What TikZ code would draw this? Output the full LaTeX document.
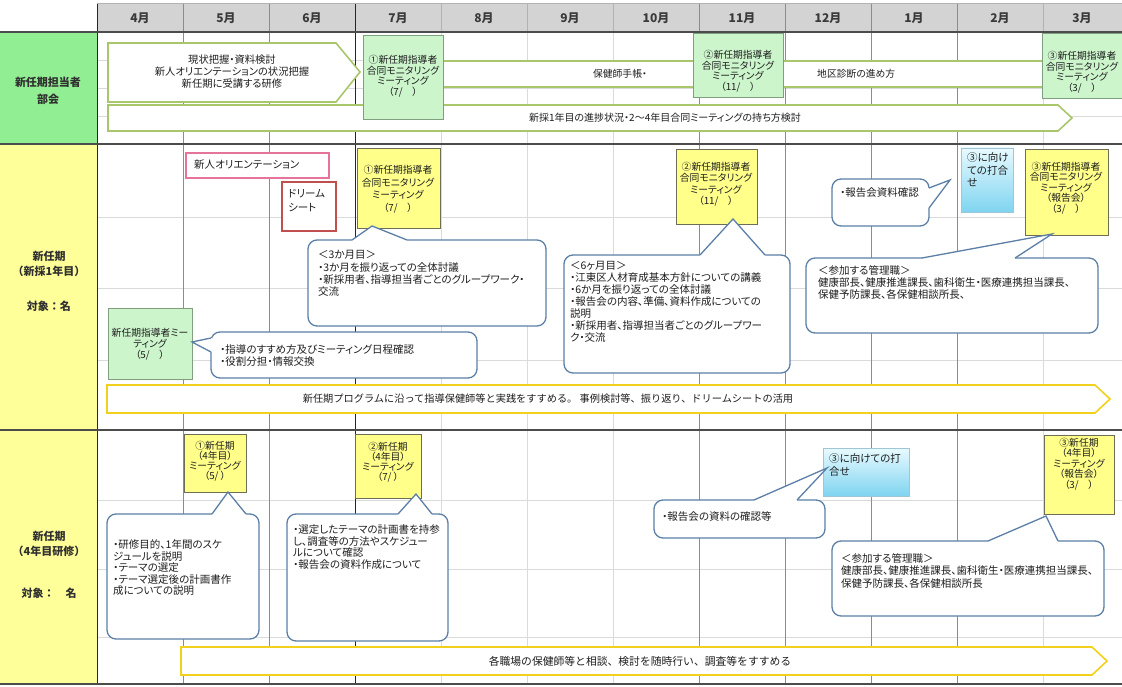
\documentclass[tikz,border=0pt]{standalone}
\usepackage{fontspec}
\newfontfamily\jp{Noto Sans CJK JP}[RawFeature=+palt]
\newfontfamily\jpf{Noto Sans CJK JP}
\usetikzlibrary{calc}
\definecolor{hdr}{HTML}{D3D3D3}
\definecolor{lblgreen}{HTML}{92EE92}
\definecolor{lblyellow}{HTML}{FFFF99}
\definecolor{glight}{HTML}{DADADA}
\definecolor{gmid}{HTML}{8C8C8C}
\definecolor{pengreen}{HTML}{A9C66C}
\definecolor{gboxf}{HTML}{CCF5CC}
\definecolor{gboxb}{HTML}{7F9F7F}
\definecolor{yboxf}{HTML}{FFFF8A}
\definecolor{yboxb}{HTML}{6E6E55}
\definecolor{calb}{HTML}{5B7FA6}
\definecolor{pinkb}{HTML}{E5739A}
\definecolor{redb}{HTML}{C0504D}
\definecolor{bany}{HTML}{F2D11C}
\definecolor{bluetop}{HTML}{E8FAFF}
\definecolor{bluebot}{HTML}{7FD4F0}
\definecolor{blueb}{HTML}{9FC6D6}
\definecolor{txtc}{HTML}{1E1E1E}
\definecolor{lblc}{HTML}{303030}
\definecolor{monc}{HTML}{3A3A3A}
\newcommand\calltop[8]{%
  \draw[callout] (#1,#2) rectangle (#3,#4);
  \fill[white] (#5,#2+1.2) -- (#5,#2) -- (#7,#8) -- (#6,#2) -- (#6,#2+1.2) -- cycle;
  \draw[calloutln] (#5,#2) -- (#7,#8) -- (#6,#2);}
\newcommand\callleft[8]{%
  \draw[callout] (#1,#2) rectangle (#3,#4);
  \fill[white] (#1+1.2,#5) -- (#1,#5) -- (#7,#8) -- (#1,#6) -- (#1+1.2,#6) -- cycle;
  \draw[calloutln] (#1,#5) -- (#7,#8) -- (#1,#6);}
\newcommand\callright[8]{%
  \draw[callout] (#1,#2) rectangle (#3,#4);
  \fill[white] (#3-1.2,#5) -- (#3,#5) -- (#7,#8) -- (#3,#6) -- (#3-1.2,#6) -- cycle;
  \draw[calloutln] (#3,#5) -- (#7,#8) -- (#3,#6);}
\tikzset{
  gridlight/.style={draw=glight, line width=0.6pt},
  gridmid/.style={draw=gmid, line width=0.7pt},
  griddark/.style={draw=black!85, line width=1pt},
  hline/.style={draw=black!70, line width=1.1pt},
  penbox/.style={draw=pengreen, line width=1.6pt, fill=white},
  gbox/.style={draw=gboxb, fill=gboxf, line width=0.8pt},
  ybox/.style={draw=yboxb, fill=yboxf, line width=0.8pt},
  callout/.style={draw=calb, line width=1.3pt, fill=white, rounded corners=9pt},
  calloutln/.style={draw=calb, line width=1.3pt},
  banner/.style={draw=bany, line width=1.6pt, fill=white},
  ct/.style={font=\jp\fontsize{10.5}{#1}\selectfont, align=left, anchor=west, text=txtc, inner sep=0pt},
  ct/.default=12,
  bt/.style={font=\jp\fontsize{9.8}{#1}\selectfont, align=center, text=txtc, inner sep=0pt},
  bt/.default=11,
  bant/.style={font=\jpf\fontsize{#1}{12}\selectfont, text=txtc, inner sep=0pt},
  lbl/.style={font=\jpf\bfseries\fontsize{11}{13}\selectfont, text=lblc, inner sep=0pt},
  mon/.style={font=\jp\bfseries\fontsize{12}{14}\selectfont, text=monc, inner sep=0pt},
}
\begin{document}
\begin{tikzpicture}[x=1pt,y=-1pt]
\useasboundingbox (0,0) rectangle (1122,687);
\fill[white] (0,0) rectangle (1122,687);
% cells
\fill[lblgreen] (0,32) rectangle (97,144);
\fill[lblyellow] (0,144) rectangle (97,430);
\fill[lblyellow] (0,430) rectangle (97,684);
\fill[hdr] (97,3) rectangle (1122,32);
% grid
\foreach \y in {60,88,116,217,288,360,500,569,637} \draw[gridlight] (97,\y) -- (1122,\y);
\foreach \x in {441,527,613,1043} {\draw[gridlight] (\x,32) -- (\x,684); \draw[draw=gray!60, line width=0.6pt] (\x,3) -- (\x,32);}
\foreach \x in {183,269,699,785,871,957} \draw[gridmid] (\x,3) -- (\x,684);
\draw[griddark] (355,3) -- (355,684);
\draw[griddark] (97,3) -- (97,684);
\draw[draw=gray!60, line width=0.6pt] (97,3) -- (1122,3);
\draw[hline] (0,32) -- (1122,32);
\draw[hline] (0,144) -- (1122,144);
\draw[hline] (0,430) -- (1122,430);
\draw[hline] (0,684) -- (1122,684);
% months
\node[mon] (m4) at (140,18) {4月};
\node[mon] (m5) at (226,18) {5月};
\node[mon] (m6) at (312,18) {6月};
\node[mon] (m7) at (398,18) {7月};
\node[mon] (m8) at (484,18) {8月};
\node[mon] (m9) at (570,18) {9月};
\node[mon] (m10) at (656,18) {10月};
\node[mon] (m11) at (742,18) {11月};
\node[mon] (m12) at (828,18) {12月};
\node[mon] (m1) at (914,18) {1月};
\node[mon] (m2) at (1000,18) {2月};
\node[mon] (m3) at (1082,18) {3月};
% labels
\node[lbl] (lt1) at (48,82) {新任期担当者};
\node[lbl] (lt2) at (48,99) {部会};
\node[lbl] (lm1) at (49,256) {新任期};
\node[lbl] (lm2) at (49,271) {（新採1年目）};
\node[lbl] (lm3) at (49,306) {対象：名};
\node[lbl] (lb1) at (49,536) {新任期};
\node[lbl] (lb2) at (49,551) {（4年目研修）};
\node[lbl] (lb3) at (49,593) {対象：　名};
% ---------- top section ----------
\draw[penbox] (108,105) -- (1058,105) -- (1072,118) -- (1058,131) -- (108,131) -- cycle;
\node[font=\jp\fontsize{10}{12}\selectfont, text=txtc, inner sep=0pt] (tB) at (665,118) {新採1年目の進捗状況・2～4年目合同ミーティングの持ち方検討};
\draw[penbox] (440,61) rectangle (1046,87);
\node[bt] (tband1) at (620,74) {保健師手帳・};
\node[bt, anchor=west] (tband2) at (817,74) {地区診断の進め方};
\draw[penbox] (108,43) -- (336,43) -- (360,72) -- (336,102) -- (108,102) -- cycle;
\node[font=\jp\fontsize{10.3}{12}\selectfont, align=center, text=txtc, inner sep=0pt] (tA) at (232,72) {現状把握・資料検討\\新人オリエンテーションの状況把握\\新任期に受講する研修};
\draw[gbox] (363,35) rectangle (443,119);
\node[bt=10.5] (tg1) at (403,76) {①新任期指導者\\合同モニタリング\\ミーティング\\（7/　）};
\draw[gbox] (693,33) rectangle (783,97);
\node[bt=10.5] (tg2) at (738,71) {②新任期指導者\\合同モニタリング\\ミーティング\\（11/　）};
\draw[gbox] (1042,33) rectangle (1126,98);
\node[bt=10.5] (tg3) at (1082,72) {③新任期指導者\\合同モニタリング\\ミーティング\\（3/　）};
% ---------- middle section ----------
\draw[draw=pinkb, line width=1.5pt, fill=white] (186,153) rectangle (329,178);
\node[ct] (mpink) at (194,165) {新人オリエンテーション};
\draw[draw=redb, line width=1.5pt, fill=white] (282,182) rectangle (336,231);
\node[ct=14] (mred) at (288,201) {ドリーム\\シート};
\draw[ybox] (357,148) rectangle (440,228);
\node[bt=12.5] (my1) at (398,189) {①新任期指導者\\合同モニタリング\\ミーティング\\（7/　）};
\calltop{308}{240}{546}{326}{352}{407}{372}{226}
\node[ct=12.3] (mc1) at (318,273.5) {＜3か月目＞\\・3か月を振り返っての全体討議\\・新採用者、指導担当者ごとのグループワーク・\\交流};
\draw[ybox] (676,149) rectangle (757,224);
\node[bt=11.5] (my2) at (716,184) {②新任期指導者\\合同モニタリング\\ミーティング\\（11/　）};
\calltop{564}{255}{790}{373}{700}{765}{733}{219}
\node[ct=12] (mc3) at (570,302) {＜6ヶ月目＞\\・江東区人材育成基本方針についての講義\\・6か月を振り返っての全体討議\\・報告会の内容、準備、資料作成についての\\説明\\・新採用者、指導担当者ごとのグループワー\\ク・交流};
\shade[top color=bluetop, bottom color=bluebot, draw=blueb, line width=0.8pt] (961,148) rectangle (1013,212);
\node[ct=12.5] (mblue) at (967,170) {③に向け\\ての打合\\せ};
\callright{832}{179}{929}{226}{188}{208}{950}{180}
\node[ct] (mc4) at (840,193) {・報告会資料確認};
\draw[ybox] (1025,149) rectangle (1108,235);
\node[bt=10.5] (my3) at (1066,188) {③新任期指導者\\合同モニタリング\\ミーティング\\（報告会）\\（3/　）};
\calltop{806}{258}{1098}{333}{922}{1015}{1052}{234}
\node[ct=12] (mc5) at (818,283) {＜参加する管理職＞\\健康部長、健康推進課長、歯科衛生・医療連携担当課長、\\保健予防課長、各保健相談所長、};
\draw[gbox] (108,308) rectangle (192,379);
\node[bt=11] (mg) at (150,344) {新任期指導者ミー\\ティング\\（5/　）};
\callleft{211}{332}{477}{378}{338}{352}{192}{342}
\node[ct=12] (mc2) at (220,356) {・指導のすすめ方及びミーティング日程確認\\・役割分担・情報交換};
\draw[banner] (107,385) -- (1095,385) -- (1110,399) -- (1095,413) -- (107,413) -- cycle;
\node[bant=10.2] (mban) at (548,399) {新任期プログラムに沿って指導保健師等と実践をすすめる。 事例検討等、振り返り、ドリームシートの活用};
% ---------- bottom section ----------
\draw[ybox] (184,434) rectangle (246,492);
\node[bt=10] (by1) at (215,461) {①新任期\\（4年目）\\ミーティング\\（5/ ）};
\calltop{107}{514}{259}{639}{212}{246}{228}{492}
\node[ct=11.5] (bc1) at (113,568) {・研修目的、1年間のスケ\\ジュールを説明\\・テーマの選定\\・テーマ選定後の計画書作\\成についての説明};
\draw[ybox] (355,434) rectangle (421,498);
\node[bt=10] (by2) at (388,462) {②新任期\\（4年目）\\ミーティング\\（7/ ）};
\calltop{287}{514}{448}{641}{398}{432}{416}{494}
\node[ct=11.5] (bc2) at (293,547) {・選定したテーマの計画書を持参\\し、調査等の方法やスケジュー\\ルについて確認\\・報告会の資料作成について};
\shade[top color=bluetop, bottom color=bluebot, draw=blueb, line width=0.8pt] (823,448) rectangle (909,496);
\node[ct=13] (bblue) at (829,464.5) {③に向けての打\\合せ};
\calltop{654}{500}{825}{538}{754}{797}{827}{468}
\node[ct] (bc3) at (662,517) {・報告会の資料の確認等};
\draw[ybox] (1044,435) rectangle (1114,514);
\node[bt=10.5] (by3) at (1079,464) {③新任期\\（4年目）\\ミーティング\\（報告会）\\（3/　）};
\calltop{832}{541}{1104}{616}{988}{1058}{1046}{516}
\node[ct=12.5] (bc4) at (841,571) {＜参加する管理職＞\\健康部長、健康推進課長、歯科衛生・医療連携担当課長、\\保健予防課長、各保健相談所長};
\draw[banner] (181,647) -- (1092,647) -- (1107,661) -- (1092,675) -- (181,675) -- cycle;
\node[bant=10.8] (bban) at (640,661) {各職場の保健師等と相談、検討を随時行い、調査等をすすめる};
\end{tikzpicture}
\end{document}
